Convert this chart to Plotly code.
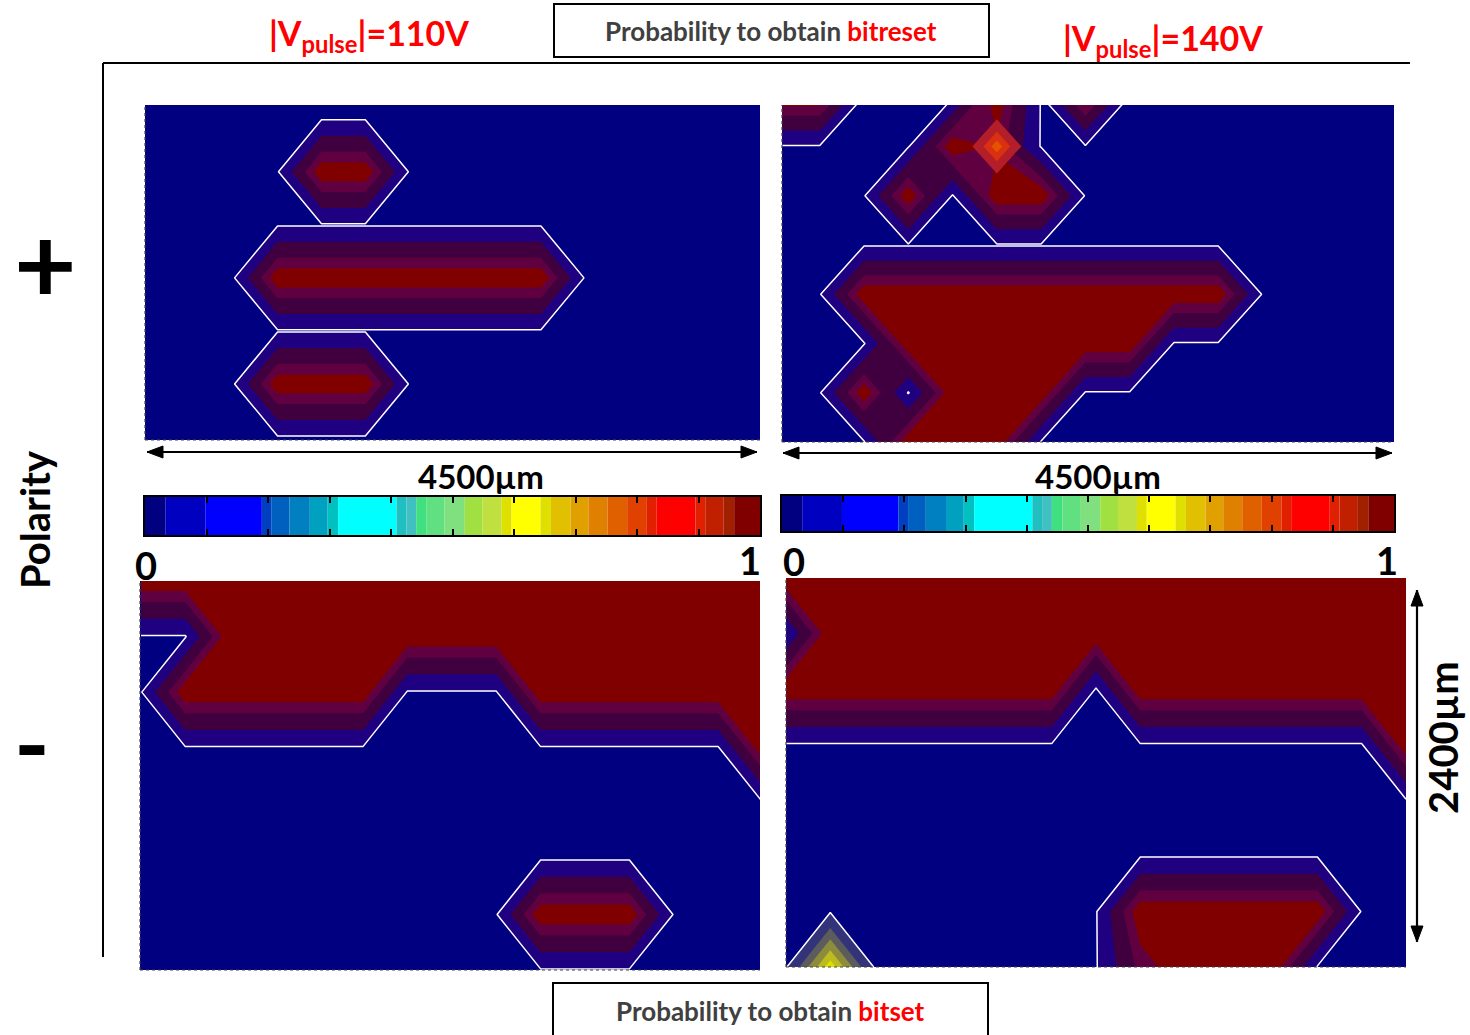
import plotly.graph_objects as go

W, H = 1470, 1035

# ---------------- data ----------------
COLS = list(range(15))          # node columns across 4500 um
ROWS = list(range(8))           # node rows across 2400 um (0 = bottom)

# node probabilities, listed from the top row (7) down to the bottom row (0)
P110_PLUS = [
    [0, 0, 0, 0, 0, 0, 0, 0, 0, 0, 0, 0, 0, 0, 0],
    [0, 0, 0, 0, 0, 0, 0, 0, 0, 0, 0, 0, 0, 0, 0],
    [0, 0, 0, 0, 1, 1, 0, 0, 0, 0, 0, 0, 0, 0, 0],
    [0, 0, 0, 0, 0, 0, 0, 0, 0, 0, 0, 0, 0, 0, 0],
    [0, 0, 0, 1, 1, 1, 1, 1, 1, 1, 0, 0, 0, 0, 0],
    [0, 0, 0, 0, 0, 0, 0, 0, 0, 0, 0, 0, 0, 0, 0],
    [0, 0, 0, 1, 1, 1, 0, 0, 0, 0, 0, 0, 0, 0, 0],
    [0, 0, 0, 0, 0, 0, 0, 0, 0, 0, 0, 0, 0, 0, 0],
]
P140_PLUS = [
    [1, 1, 0, 0, 0, 1, 0, 1, 0, 0, 0, 0, 0, 0, 0],
    [0, 0, 0, 0, 1, 0.78, 0, 0, 0, 0, 0, 0, 0, 0, 0],
    [0, 0, 0, 1, 0, 1, 1, 0, 0, 0, 0, 0, 0, 0, 0],
    [0, 0, 0, 0, 0, 0, 0, 0, 0, 0, 0, 0, 0, 0, 0],
    [0, 0, 1, 1, 1, 1, 1, 1, 1, 1, 1, 0, 0, 0, 0],
    [0, 0, 0, 1, 1, 1, 1, 1, 1, 0, 0, 0, 0, 0, 0],
    [0, 0, 1, 0, 1, 1, 1, 0, 0, 0, 0, 0, 0, 0, 0],
    [0, 0, 0, 1, 1, 1, 0, 0, 0, 0, 0, 0, 0, 0, 0],
]
P110_MINUS = [
    [1, 1, 1, 1, 1, 1, 1, 1, 1, 1, 1, 1, 1, 1, 1],
    [0, 0, 1, 1, 1, 1, 1, 1, 1, 1, 1, 1, 1, 1, 1],
    [0, 1, 1, 1, 1, 1, 0, 0, 0, 1, 1, 1, 1, 1, 1],
    [0, 0, 0, 0, 0, 0, 0, 0, 0, 0, 0, 0, 0, 0, 1],
    [0, 0, 0, 0, 0, 0, 0, 0, 0, 0, 0, 0, 0, 0, 0],
    [0, 0, 0, 0, 0, 0, 0, 0, 0, 0, 0, 0, 0, 0, 0],
    [0, 0, 0, 0, 0, 0, 0, 0, 0, 1, 1, 1, 0, 0, 0],
    [0, 0, 0, 0, 0, 0, 0, 0, 0, 0, 0, 0, 0, 0, 0],
]
P140_MINUS = [
    [1, 1, 1, 1, 1, 1, 1, 1, 1, 1, 1, 1, 1, 1, 1],
    [0.05, 1, 1, 1, 1, 1, 1, 1, 1, 1, 1, 1, 1, 1, 1],
    [1, 1, 1, 1, 1, 1, 1, 0, 1, 1, 1, 1, 1, 1, 1],
    [0, 0, 0, 0, 0, 0, 0, 0, 0, 0, 0, 0, 0, 0, 1],
    [0, 0, 0, 0, 0, 0, 0, 0, 0, 0, 0, 0, 0, 0, 0],
    [0, 0, 0, 0, 0, 0, 0, 0, 0, 0, 0, 0, 0, 0, 0],
    [0, 0, 0, 0, 0, 0, 0, 0, 1, 1, 1, 1, 1, 0, 0],
    [0, 0, 0, 0, 0, 0, 0, 0, 0.7, 1, 1, 1, 0, 0, 0],
]
# isolated nodes with intermediate probability: (column, row, value)
SPOT_140_PLUS = (5, 6, 0.78)
SPOT_140_MINUS = (1, 0, 0.62)

# band limits and colours used in the maps (navy -> dark red)
BAND_LEVELS = [0.02, 0.32, 0.62, 0.82]
BAND_COLORS = ["#1f0080", "#40003f", "#600040", "#800000"]

# colour bar segments (boundaries along 0..1) and colours
CB_EDGES = [0, 0.033, 0.098, 0.19, 0.206, 0.235, 0.268, 0.297, 0.314, 0.409,
            0.425, 0.441, 0.458, 0.487, 0.52, 0.549, 0.58, 0.596, 0.643, 0.66,
            0.692, 0.721, 0.752, 0.784, 0.816, 0.832, 0.895, 0.911, 0.941, 0.958, 1.0]
CB_COLORS = ["#000080", "#0000c0", "#0000ff", "#0040c0", "#0060c0", "#0080c0",
             "#00a0c0", "#00c0c0", "#00ffff", "#20c0c0", "#40c0c0", "#40e080",
             "#60e080", "#80e080", "#a0e040", "#c0e040", "#e0e000", "#ffff00",
             "#e0e000", "#e0c000", "#e0a000", "#e08000", "#e06000", "#e04000",
             "#e02000", "#ff0000", "#e02000", "#c02000", "#a02000", "#800000"]
CB_TICKS = [0.1, 0.2, 0.3, 0.4, 0.5, 0.6, 0.7, 0.8, 0.9]

FONT = "Lato, 'Open Sans', sans-serif"


def fx(px):
    return px / W


def fy(py):
    return 1 - py / H


fig = go.Figure()

panels = [
    # grid, axis suffix, x px, y px, x range, y range
    (P110_PLUS, "", (145, 760), (105, 440), [-0.02, 13.99], [-0.057, 6.26]),
    (P140_PLUS, "2", (782, 1394), (105, 442), [0.147, 13.97], [0.0, 6.84]),
    (P110_MINUS, "3", (140, 760), (581, 970), [-0.02, 13.94], [0.0, 7.0]),
    (P140_MINUS, "4", (786, 1406), (578, 967), [0.0, 14.0], [0.0, 7.0]),
]


def contour(z, value, color, xa, ya, line_color=None):
    # constraint contours shade the region that fails the test, so "<" shades z > value
    return go.Contour(
        z=z, x=COLS, y=ROWS,
        contours=dict(type="constraint", operation="<", value=value),
        fillcolor=color,
        line=dict(width=1.5 if line_color else 0, color=line_color or color, smoothing=0),
        showscale=False, hoverinfo="skip", xaxis=xa, yaxis=ya)


shapes = []
layout_axes = {}
for grid, s, (x0, x1), (y0, y1), xr, yr in panels:
    xa, ya = "x" + s, "y" + s
    z = grid[::-1]
    for i, (lv, col) in enumerate(zip(BAND_LEVELS, BAND_COLORS)):
        fig.add_trace(contour(z, lv, col, xa, ya, "white" if i == 0 else None))
    layout_axes["xaxis" + s] = dict(domain=[fx(x0), fx(x1)], range=xr, visible=False,
                                    anchor=ya)
    layout_axes["yaxis" + s] = dict(domain=[fy(y1), fy(y0)], range=yr, visible=False,
                                    anchor=xa)
    shapes.append(dict(type="rect", xref=xa + " domain", yref=ya + " domain",
                       x0=0, x1=1, y0=0, y1=1, fillcolor="#000080",
                       line=dict(width=0), layer="below"))
    # dotted frame on left and bottom
    shapes.append(dict(type="line", xref="paper", yref="paper", x0=fx(x0), x1=fx(x0),
                       y0=fy(y1), y1=fy(y0), line=dict(color="#444", width=1.2, dash="dot")))
    shapes.append(dict(type="line", xref="paper", yref="paper", x0=fx(x0), x1=fx(x1),
                       y0=fy(y1), y1=fy(y1), line=dict(color="#444", width=1.2, dash="dot")))


# intermediate-probability spots
def spot_grid(spot):
    c, r, v = spot
    return [[v if (i == c and j == r) else 0 for i in COLS] for j in ROWS]


g = spot_grid(SPOT_140_PLUS)
v = SPOT_140_PLUS[2]
for frac, col in zip([0.45, 0.7, 0.88], ["#b41e28", "#d83010", "#e65200"]):
    fig.add_trace(contour(g, frac * v, col, "x2", "y2"))

g = spot_grid(SPOT_140_MINUS)
v = SPOT_140_MINUS[2]
for i, (frac, col) in enumerate(zip([0.02, 0.3, 0.5, 0.7, 0.88],
                                    ["#33337a", "#5c5c5c", "#8c8c3c", "#bcbc20", "#e0e000"])):
    fig.add_trace(contour(g, frac * v, col, "x4", "y4", "white" if i == 0 else None))

# colour bars
widths = [b - a for a, b in zip(CB_EDGES[:-1], CB_EDGES[1:])]
for s, (x0, x1), (y0, y1) in [("5", (145, 760), (497, 535)), ("6", (782, 1394), (496, 531))]:
    fig.add_trace(go.Bar(x=widths, base=CB_EDGES[:-1], y=[0] * len(widths), orientation="h",
                         width=1, marker=dict(color=CB_COLORS, line=dict(width=0)),
                         hoverinfo="skip", showlegend=False, xaxis="x" + s, yaxis="y" + s))
    layout_axes["xaxis" + s] = dict(domain=[fx(x0), fx(x1)], range=[0, 1], anchor="y" + s,
                                    showgrid=False, zeroline=False, showline=True,
                                    linecolor="black", linewidth=1.5, mirror="ticks",
                                    ticks="inside", tickvals=CB_TICKS, ticklen=6,
                                    tickwidth=1.5, tickcolor="black", showticklabels=False)
    layout_axes["yaxis" + s] = dict(domain=[fy(y1), fy(y0)], range=[-0.5, 0.5], anchor="x" + s,
                                    showgrid=False, zeroline=False, showline=True,
                                    linecolor="black", linewidth=1.5, mirror=True,
                                    showticklabels=False, ticks="")

# frame and boxes
shapes += [
    dict(type="line", xref="paper", yref="paper", x0=fx(103), x1=fx(1410), y0=fy(63), y1=fy(63),
         line=dict(color="black", width=2)),
    dict(type="line", xref="paper", yref="paper", x0=fx(103), x1=fx(103), y0=fy(63), y1=fy(957),
         line=dict(color="black", width=2)),
    dict(type="rect", xref="paper", yref="paper", x0=fx(554), x1=fx(989), y0=fy(57), y1=fy(4),
         line=dict(color="black", width=2), fillcolor="white"),
    dict(type="rect", xref="paper", yref="paper", x0=fx(553), x1=fx(988), y0=fy(1045), y1=fy(983),
         line=dict(color="black", width=2), fillcolor="white"),
]


def path(points):
    d = "M " + " L ".join(f"{fx(a):.5f},{fy(b):.5f}" for a, b in points) + " Z"
    return dict(type="path", xref="paper", yref="paper", path=d, fillcolor="black",
                line=dict(color="black", width=1))


def double_arrow(xa, ya, xb, yb):
    out = [dict(type="line", xref="paper", yref="paper", x0=fx(xa), y0=fy(ya), x1=fx(xb),
                y1=fy(yb), line=dict(color="black", width=2.2))]
    L, w = 16, 6
    if ya == yb:
        out.append(path([(xa, ya), (xa + L, ya - w), (xa + L, ya + w)]))
        out.append(path([(xb, yb), (xb - L, yb - w), (xb - L, yb + w)]))
    else:
        out.append(path([(xa, ya), (xa - w, ya + L), (xa + w, ya + L)]))
        out.append(path([(xb, yb), (xb - w, yb - L), (xb + w, yb - L)]))
    return out


shapes += double_arrow(147, 452, 757, 452)
shapes += double_arrow(783, 453, 1392, 453)
shapes += double_arrow(1417, 590, 1417, 942)


def text(t, x, y, size, color="black", angle=0):
    return dict(text=t, x=fx(x), y=fy(y), xref="paper", yref="paper", showarrow=False,
                xanchor="center", yanchor="middle", textangle=angle,
                font=dict(family=FONT, size=size, color=color))


annotations = [
    text("<b>|V<sub>pulse</sub>|=110V</b>", 369, 35, 34, "#ff0000"),
    text("<b>|V<sub>pulse</sub>|=140V</b>", 1163, 40, 34, "#ff0000"),
    text("<b>Probability to obtain <span style='color:#ff0000'>bitreset</span></b>", 771, 31, 26, "#404040"),
    text("<b>Probability to obtain <span style='color:#ff0000'>bitset</span></b>", 771, 1011, 26, "#404040"),
    text("<b>4500µm</b>", 481, 476, 33),
    text("<b>4500µm</b>", 1098, 476, 33),
    text("<b>0</b>", 146, 565, 38),
    text("<b>1</b>", 750, 560, 38),
    text("<b>0</b>", 794, 561, 38),
    text("<b>1</b>", 1387, 560, 38),
    text("<b>+</b>", 45, 261, 108),
    text("<b>-</b>", 32, 741, 96),
    text("<b>Polarity</b>", 35, 520, 40, angle=-90),
    text("<b>2400µm</b>", 1443, 738, 40, angle=-90),
]

fig.update_layout(width=W, height=H, margin=dict(l=0, r=0, t=0, b=0),
                  paper_bgcolor="white", plot_bgcolor="white", showlegend=False,
                  shapes=shapes, annotations=annotations, **layout_axes)

fig.write_html("out.html", config={"displayModeBar": False},
               post_script="document.body.style.margin='0px';document.body.style.overflow='hidden';")
